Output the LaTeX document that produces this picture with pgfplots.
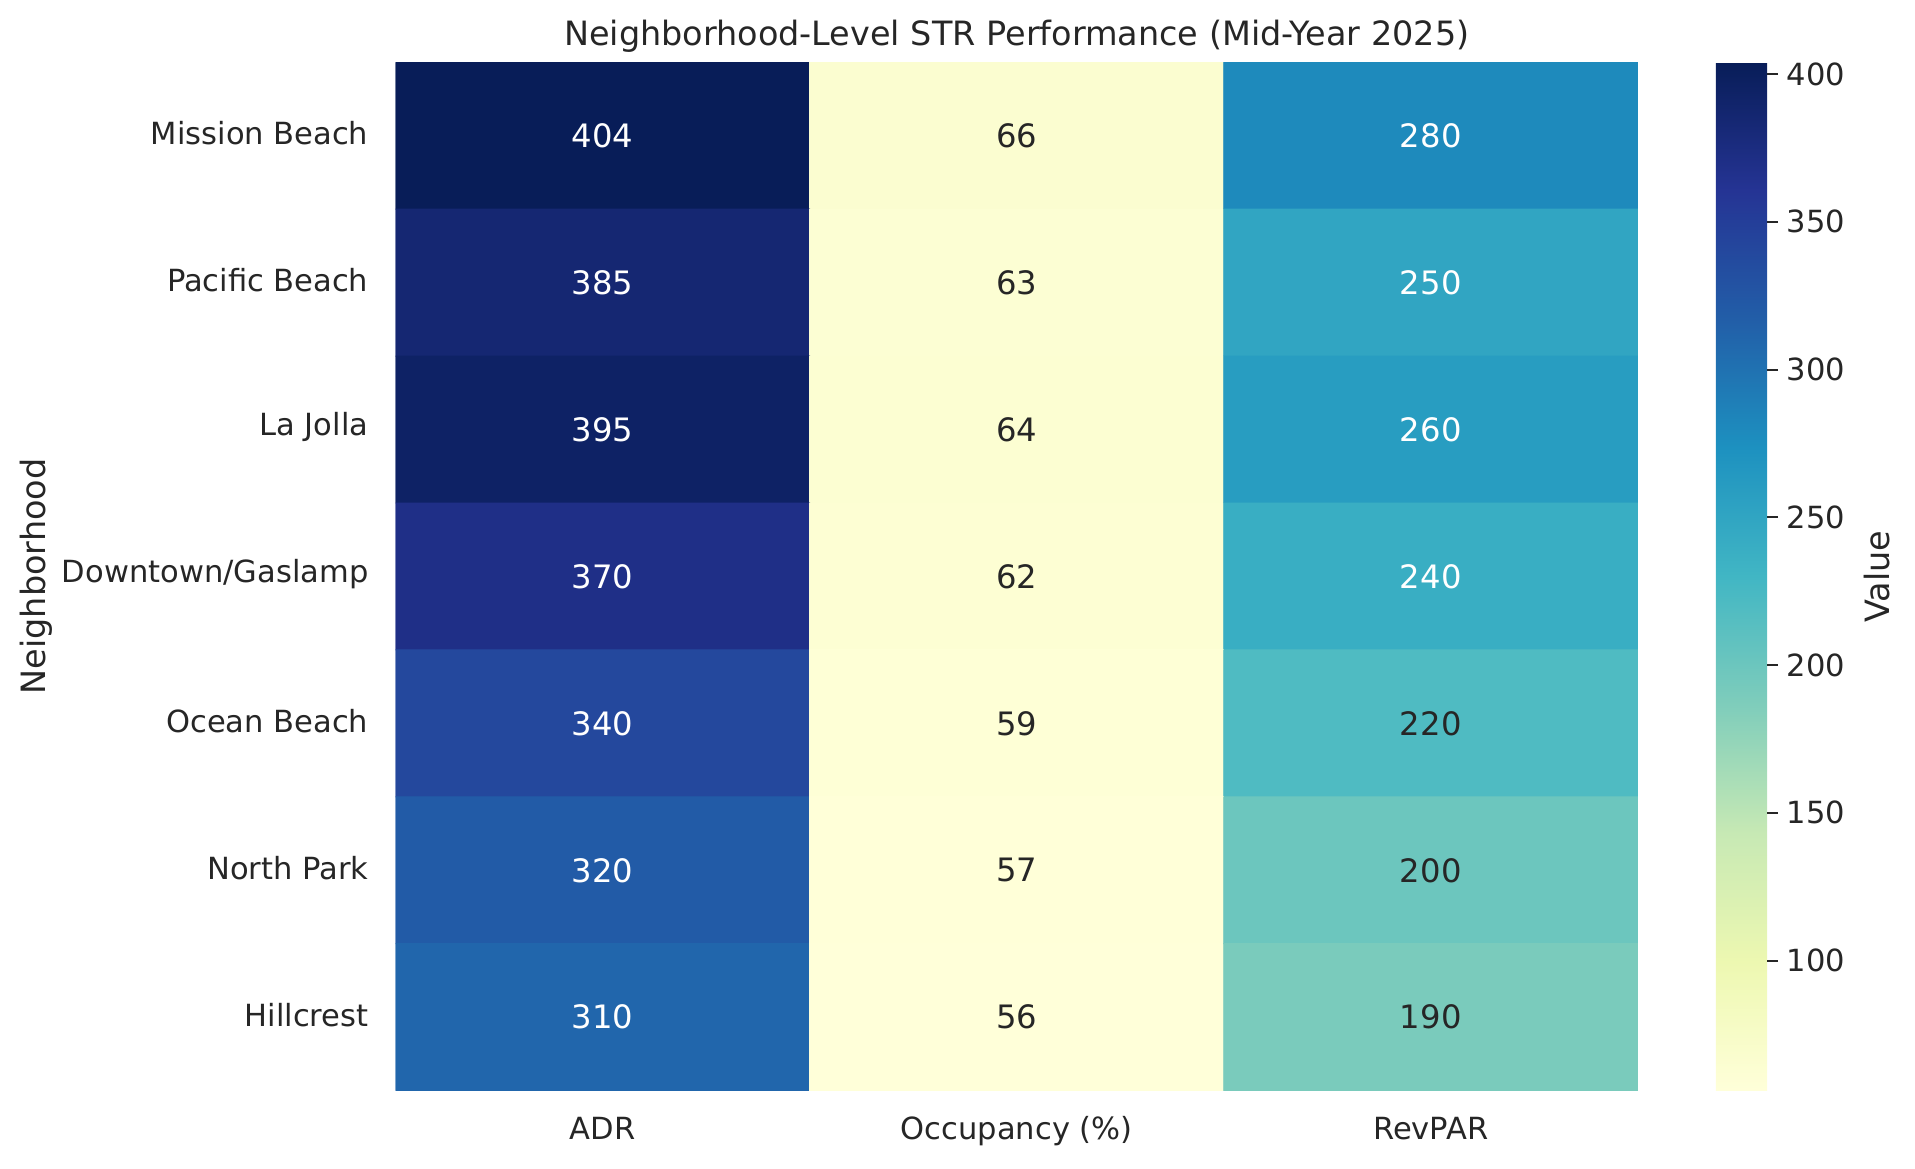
\documentclass[border=0pt]{standalone}
\usepackage{pgfplots}
\pgfplotsset{compat=1.18}
\usepackage{pgfplotstable}
\usepackage{fontspec}
\setmainfont{DejaVu Sans}
\definecolor{txt}{HTML}{262626}

% one row per neighborhood, x = metric (0 ADR, 1 Occupancy, 2 RevPAR)
\pgfplotstableread{
x y C
0 0 404
1 0 66
2 0 280
0 1 385
1 1 63
2 1 250
0 2 395
1 2 64
2 2 260
0 3 370
1 3 62
2 3 240
0 4 340
1 4 59
2 4 220
0 5 320
1 5 57
2 5 200
0 6 310
1 6 56
2 6 190
}\cells

% annotations on dark cells (white text)
\pgfplotstableread{
x y C
0 0 404
0 1 385
0 2 395
0 3 370
0 4 340
0 5 320
0 6 310
2 0 280
2 1 250
2 2 260
2 3 240
}\lightlabels

% annotations on light cells (dark text)
\pgfplotstableread{
x y C
1 0 66
1 1 63
1 2 64
1 3 62
1 4 59
1 5 57
1 6 56
2 4 220
2 5 200
2 6 190
}\darklabels

\newcommand{\fs}{\fontsize{12.5}{15}\selectfont}
\newcommand{\fa}{\fontsize{13.2}{16}\selectfont}
\newcommand{\ft}{\fontsize{13.7}{16}\selectfont}

\begin{document}
\begin{tikzpicture}
\begin{axis}[
    name=ax,
    scale only axis,
    width=508.5pt, height=421pt,
    xmin=-0.5, xmax=2.5, ymin=-0.5, ymax=6.5,
    y dir=reverse,
    enlargelimits=false,
    xtick={0,1,2},
    xticklabels={ADR, Occupancy (\%), RevPAR},
    ytick={0,...,6},
    yticklabels={Mission Beach, Pacific Beach, La Jolla, Downtown/Gaslamp, Ocean Beach, North Park, Hillcrest},
    major tick length=0pt,
    axis line style={draw=none},
    tick label style={font=\fs, text=txt},
    xticklabel style={anchor=base, yshift=-20pt},
    yticklabel style={anchor=east, inner xsep=0pt, xshift=-11pt, yshift=1pt},
    ylabel={Neighborhood},
    ylabel style={font=\ft, text=txt, at={(axis description cs:0,0.5)}, anchor=center, yshift=147pt},
    title={Neighborhood-Level STR Performance (Mid-Year 2025)},
    title style={font=\ft, text=txt, at={(axis description cs:0.5,1)}, anchor=base, yshift=1pt},
    colormap={ylgnbu}{rgb255=(255,255,217) rgb255=(237,248,177) rgb255=(199,233,180) rgb255=(127,205,187) rgb255=(65,182,196) rgb255=(29,145,192) rgb255=(34,94,168) rgb255=(37,52,148) rgb255=(8,29,88)},
    point meta min=56, point meta max=404,
    colorbar,
    colorbar/width=21pt,
    colorbar style={
        scale only axis,
        height=421pt,
        at={(1.0629,1)}, anchor=north west,
        axis line style={draw=none},
        ytick={100,150,...,400},
        ytick pos=right, yticklabel pos=right,
        tick align=outside,
        major tick length=4.5pt,
        ytick style={draw=txt, line width=0.8pt},
        yticklabel style={font=\fs, text=txt, /pgf/number format/assume math mode=true},
        ylabel={Value},
        ylabel style={font=\ft, text=txt, at={(axis description cs:0,0.5)}, anchor=center, yshift=-66pt},
    },
]
\addplot[matrix plot*, point meta=explicit, mesh/cols=3] table[meta=C] {\cells};
\addplot[only marks, mark=none, point meta=explicit symbolic,
    nodes near coords={\pgfplotspointmeta}, nodes near coords align=center,
    nodes near coords style={font=\fa, text=white}] table[meta=C] {\lightlabels};
\addplot[only marks, mark=none, point meta=explicit symbolic,
    nodes near coords={\pgfplotspointmeta}, nodes near coords align=center,
    nodes near coords style={font=\fa, text=txt}] table[meta=C] {\darklabels};
\end{axis}
\pgfresetboundingbox
\useasboundingbox (ax.south west) ++(-162pt,-32pt) rectangle ++(784pt,478.5pt);
\end{tikzpicture}
\end{document}
